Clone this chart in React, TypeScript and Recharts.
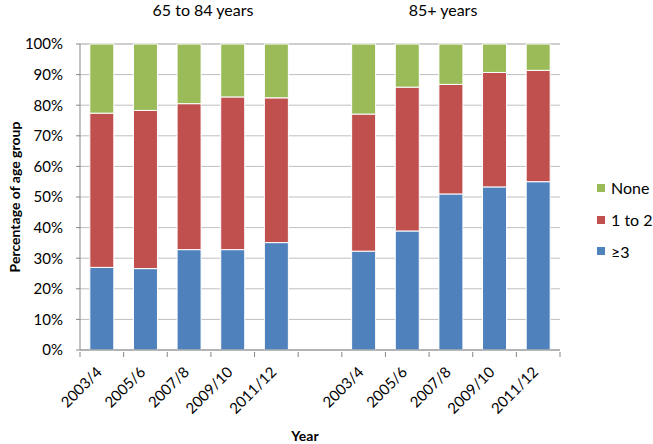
import { Bar, BarChart, CartesianGrid, XAxis, YAxis } from "recharts";

const years = ["2003/4", "2005/6", "2007/8", "2009/10", "2011/12"];

// 65 to 84 years
const young3plus = [27.0, 26.6, 32.8, 32.8, 35.1];
const young1to2 = [50.4, 51.7, 47.7, 49.9, 47.3];
const youngNone = [22.6, 21.7, 19.5, 17.3, 17.6];

// 85+ years
const old3plus = [32.3, 38.9, 51.0, 53.3, 55.0];
const old1to2 = [44.8, 47.0, 35.8, 37.4, 36.4];
const oldNone = [22.9, 14.1, 13.2, 9.3, 8.6];

const yTicks = [0, 10, 20, 30, 40, 50, 60, 70, 80, 90, 100];

const series = [
  { key: "none", name: "None", color: "#9BBB59" },
  { key: "oneToTwo", name: "1 to 2", color: "#C0504D" },
  { key: "threePlus", name: "\u22653", color: "#4F81BD" }
];

const data = [
  ...years.map((year, i) => ({
    year,
    threePlus: young3plus[i],
    oneToTwo: young1to2[i],
    none: youngNone[i]
  })),
  { year: "" },
  ...years.map((year, i) => ({
    year,
    threePlus: old3plus[i],
    oneToTwo: old1to2[i],
    none: oldNone[i]
  }))
];

const FONT = "Lato, 'Open Sans', sans-serif";
const AXIS = "#868686";
const GRID = "#BFBFBF";

function YearTick(props: any) {
  const { x, y, payload, index, visibleTicksCount } = props;
  const half = payload?.offset || 21.8;
  const tx = x + 1;
  const ty = y + 21;
  return (
    <g>
      <line x1={x - half} x2={x - half} y1={y} y2={y + 5} stroke={AXIS} />
      {index === visibleTicksCount - 1 && (
        <line x1={x + half} x2={x + half} y1={y} y2={y + 5} stroke={AXIS} />
      )}
      <text
        x={tx}
        y={ty}
        transform={`rotate(-45, ${tx}, ${ty})`}
        textAnchor="end"
        fontSize={15}
        fontFamily={FONT}
        fill="#000"
      >
        {payload.value}
      </text>
    </g>
  );
}

function LegendBox() {
  return (
    <div
      style={{
        position: "absolute",
        left: 597,
        top: 172,
        fontFamily: FONT,
        fontSize: 16,
        color: "#000"
      }}
    >
      {series.map((s) => (
        <div key={s.key} style={{ display: "flex", alignItems: "center", height: 31.7 }}>
          <span style={{ width: 8, height: 8, background: s.color, marginRight: 6 }} />
          {s.name}
        </div>
      ))}
    </div>
  );
}

export default function App() {
  return (
    <div style={{ position: "relative", width: 653, height: 444, background: "#fff" }}>
      <style>{`body{margin:0}`}</style>
      <BarChart
        width={653}
        height={444}
        data={data}
        margin={{ top: 44, right: 93, bottom: 0, left: 0 }}
        barCategoryGap="22.5%"
      >
        <CartesianGrid stroke={GRID} vertical={false} />
        <XAxis
          dataKey="year"
          interval={0}
          height={94}
          tickSize={0}
          tick={<YearTick />}
          axisLine={{ stroke: AXIS }}
          tickLine={false}
        />
        <YAxis
          domain={[0, 100]}
          ticks={yTicks}
          interval={0}
          width={80}
          tickSize={4}
          tickMargin={13}
          tickFormatter={(v) => `${v}%`}
          tick={{ fontSize: 15, fontFamily: FONT, fill: "#000" }}
          axisLine={{ stroke: AXIS }}
          tickLine={{ stroke: AXIS }}
        />
        <Bar dataKey="threePlus" name="\u22653" stackId="a" fill="#4F81BD" stroke="#fff" strokeWidth={1} isAnimationActive={false} />
        <Bar dataKey="oneToTwo" name="1 to 2" stackId="a" fill="#C0504D" stroke="#fff" strokeWidth={1} isAnimationActive={false} />
        <Bar dataKey="none" name="None" stackId="a" fill="#9BBB59" stroke="#fff" strokeWidth={1} isAnimationActive={false} />
      </BarChart>
      <LegendBox />
      <svg
        width={653}
        height={444}
        style={{ position: "absolute", left: 0, top: 0, pointerEvents: "none" }}
      >
        <text x={203} y={16} textAnchor="middle" fontSize={16} fontFamily={FONT} fill="#000">
          65 to 84 years
        </text>
        <text x={443} y={16} textAnchor="middle" fontSize={16} fontFamily={FONT} fill="#000">
          85+ years
        </text>
        <text
          x={14}
          y={197}
          transform="rotate(-90, 14, 197)"
          textAnchor="middle"
          dominantBaseline="central"
          fontSize={14}
          fontWeight="bold"
          fontFamily={FONT}
          fill="#000"
        >
          Percentage of age group
        </text>
        <text x={305} y={441} textAnchor="middle" fontSize={14} fontWeight="bold" fontFamily={FONT} fill="#000">
          Year
        </text>
      </svg>
    </div>
  );
}
